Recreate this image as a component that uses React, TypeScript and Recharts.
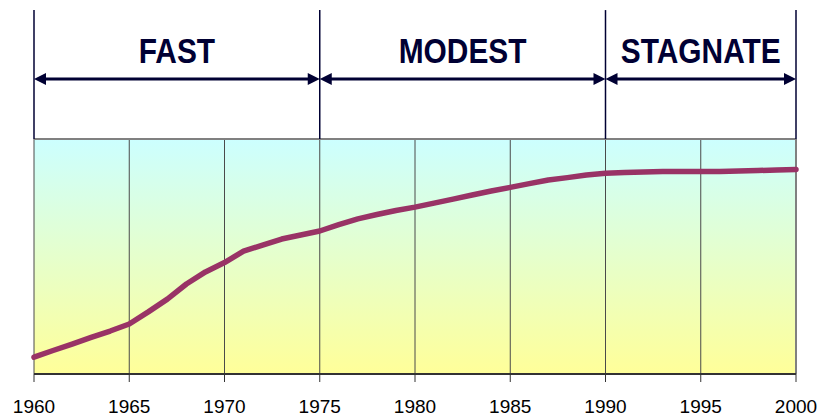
import React from 'react';
import { LineChart, Line, XAxis, YAxis, CartesianGrid, ReferenceLine } from 'recharts';

const years = [1960,1961,1962,1963,1964,1965,1966,1967,1968,1969,1970,1971,1972,1973,1974,1975,1976,1977,1978,1979,1980,1981,1982,1983,1984,1985,1986,1987,1988,1989,1990,1991,1992,1993,1994,1995,1996,1997,1998,1999,2000];
const values = [0.50,0.70,0.89,1.09,1.28,1.49,1.85,2.23,2.68,3.04,3.32,3.66,3.84,4.02,4.14,4.26,4.45,4.62,4.75,4.87,4.97,5.09,5.21,5.33,5.45,5.56,5.67,5.78,5.85,5.93,5.98,6.00,6.02,6.03,6.03,6.03,6.03,6.05,6.06,6.08,6.09];
const xTicks = [1960,1965,1970,1975,1980,1985,1990,1995,2000];
const yTicks = [0,1,2,3,4,5,6,7];
const phaseLabels = ['FAST','MODEST','STAGNATE'];
const phaseStarts = [1960,1975,1990];
const phaseEnds = [1975,1990,2000];
const phaseBounds = [1960,1975,1990,2000];
const arrowLevel = 8.787;
const boundTop = 10.84;

const data = years.map((y, i) => ({ year: y, value: values[i] }));

const NAVY = '#000033';

const makeArrow = (label: string) => (props: any) => {
  const { x1, y1, x2 } = props;
  const left = Math.min(x1, x2);
  const right = Math.max(x1, x2);
  const y = y1;
  const hl = 12;
  const hw = 6;
  const cx = (left + right) / 2;
  return (
    <g>
      <line x1={left + hl - 1} y1={y} x2={right - hl + 1} y2={y} stroke={NAVY} strokeWidth={3} />
      <path d={`M${left},${y} L${left + hl},${y - hw} L${left + hl},${y + hw} Z`} fill={NAVY} />
      <path d={`M${right},${y} L${right - hl},${y - hw} L${right - hl},${y + hw} Z`} fill={NAVY} />
      <text
        transform={`translate(${cx},${y - 16}) scale(0.83,1)`}
        x={0}
        y={0}
        textAnchor="middle"
        style={{ fontSize: 36, fontWeight: 'bold', fontFamily: "'Liberation Sans', Arial, sans-serif" }}
        fill={NAVY}
      >
        {label}
      </text>
    </g>
  );
};

const XTick = (props: any) => {
  const { x, y, payload } = props;
  return (
    <text
      x={x}
      y={y}
      dy={14}
      textAnchor="middle"
      fill="#000"
      style={{ fontSize: 19, fontFamily: "'Liberation Sans', Arial, sans-serif" }}
    >
      {payload.value}
    </text>
  );
};

export default function App() {
  return (
    <div style={{ position: 'absolute', left: 0, top: 0, background: '#fff' }}>
      <LineChart
        width={822}
        height={419}
        data={data}
        margin={{ top: 139, right: 26, bottom: 0, left: 34 }}
      >
        <defs>
          <linearGradient id="bgGrad" x1="0" y1="0" x2="0" y2="1">
            <stop offset="0%" stopColor="#CCFFFF" />
            <stop offset="100%" stopColor="#FFFF99" />
          </linearGradient>
        </defs>
        <CartesianGrid
          horizontal={false}
          vertical={true}
          fill="url(#bgGrad)"
          stroke="#4a4a4a"
          strokeWidth={1}
        />
        <XAxis
          dataKey="year"
          type="number"
          domain={[1960, 2000]}
          ticks={xTicks}
          height={45}
          tickSize={8}
          tickMargin={17}
          axisLine={{ stroke: '#333', strokeWidth: 2 }}
          tickLine={{ stroke: '#333', strokeWidth: 1 }}
          tick={<XTick />}
          interval={0}
        />
        <YAxis
          type="number"
          domain={[0, 7]}
          ticks={yTicks}
          width={0}
          tick={false}
          tickSize={4}
          axisLine={{ stroke: '#808080', strokeWidth: 2 }}
          tickLine={{ stroke: '#555', strokeWidth: 1 }}
          allowDataOverflow
        />
        <ReferenceLine y={7} stroke="#808080" strokeWidth={2} ifOverflow="visible" />
        <ReferenceLine x={2000} stroke="#808080" strokeWidth={2} ifOverflow="visible" />
        {phaseBounds.map((b) => (
          <ReferenceLine
            key={'b' + b}
            segment={[{ x: b, y: 7 }, { x: b, y: boundTop }]}
            stroke={NAVY}
            strokeWidth={1.5}
            ifOverflow="visible"
          />
        ))}
        {phaseLabels.map((lab, i) => (
          <ReferenceLine
            key={lab}
            segment={[{ x: phaseStarts[i], y: arrowLevel }, { x: phaseEnds[i], y: arrowLevel }]}
            ifOverflow="visible"
            shape={makeArrow(lab)}
          />
        ))}
        <Line
          type="linear"
          dataKey="value"
          stroke="#993366"
          strokeWidth={5.5}
          dot={false}
          strokeLinejoin="round"
          strokeLinecap="round"
          isAnimationActive={false}
        />
      </LineChart>
    </div>
  );
}
